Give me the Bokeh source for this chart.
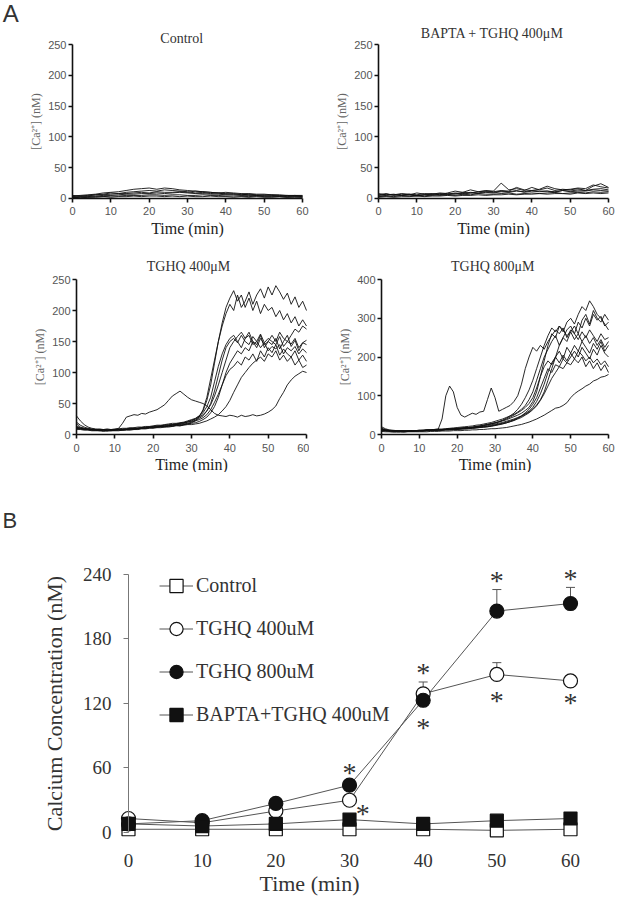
from bokeh.plotting import figure
from bokeh.layouts import column, row
from bokeh.models import (Range1d, FixedTicker, Label, Legend, LegendItem,
                          Whisker, ColumnDataSource, TeeHead)
from bokeh.core.properties import value
from bokeh.embed import file_html
from bokeh.resources import INLINE

SERIF = "Liberation Serif"
SANS = "Liberation Sans"

# ---------------- data: panel A traces ----------------
t_fine = [0, 1, 2, 3, 4, 5, 6, 7, 8, 9, 10, 11, 12, 13, 14, 15, 16, 17, 18, 19, 20,
          21, 22, 23, 24, 25, 26, 27, 28, 29, 30, 31, 32, 33, 34, 35, 36, 37, 38, 39, 40,
          41, 42, 43, 44, 45, 46, 47, 48, 49, 50, 51, 52, 53, 54, 55, 56, 57, 58, 59, 60]
t_coarse = [0, 2, 4, 6, 8, 10, 12, 14, 16, 18, 20, 22, 24, 26, 28, 30,
            32, 34, 36, 38, 40, 42, 44, 46, 48, 50, 52, 54, 56, 58, 60]

ctrl_1 = [4, 5, 6, 7, 9, 10, 11, 13, 15, 16, 17, 15, 17, 16, 14, 13, 12, 11, 10, 9, 8, 7, 7, 6, 5, 6, 5, 4, 5, 4, 4]
ctrl_2 = [3, 4, 4, 6, 7, 9, 8, 10, 11, 12, 13, 12, 14, 13, 12, 11, 9, 10, 8, 9, 7, 8, 6, 7, 6, 5, 6, 5, 4, 5, 4]
ctrl_3 = [2, 3, 3, 4, 5, 5, 6, 7, 7, 8, 8, 9, 8, 9, 10, 9, 8, 8, 7, 7, 6, 6, 5, 5, 5, 4, 4, 4, 3, 4, 3]
ctrl_4 = [1, 2, 2, 3, 3, 4, 4, 5, 5, 5, 6, 6, 5, 6, 6, 5, 5, 6, 5, 5, 4, 4, 4, 3, 4, 3, 3, 3, 2, 3, 2]
ctrl_5 = [2, 1, 2, 2, 3, 2, 3, 3, 4, 3, 4, 4, 3, 4, 3, 4, 3, 3, 4, 3, 3, 2, 3, 2, 3, 2, 2, 3, 2, 2, 2]
ctrl_6 = [5, 4, 5, 6, 6, 7, 8, 8, 9, 10, 9, 11, 10, 10, 11, 10, 12, 11, 10, 9, 10, 9, 8, 8, 7, 7, 6, 6, 5, 5, 5]

bapta_1 = [6, 8, 5, 7, 6, 9, 7, 8, 6, 9, 12, 10, 14, 11, 13, 12, 25, 14, 16, 13, 18, 14, 17, 13, 15, 14, 16, 13, 20, 24, 18]
bapta_2 = [4, 5, 6, 5, 7, 5, 6, 7, 8, 7, 9, 8, 10, 9, 11, 10, 12, 11, 13, 10, 12, 11, 12, 10, 13, 11, 12, 12, 14, 13, 12]
bapta_3 = [3, 4, 3, 5, 4, 5, 4, 6, 5, 6, 5, 7, 6, 8, 7, 7, 8, 9, 7, 8, 9, 8, 9, 10, 8, 9, 10, 9, 11, 10, 11]
bapta_4 = [8, 6, 7, 5, 6, 4, 6, 5, 7, 6, 8, 7, 9, 8, 10, 9, 11, 10, 12, 11, 13, 12, 12, 11, 13, 12, 14, 13, 15, 16, 14]
bapta_5 = [2, 3, 2, 3, 3, 4, 3, 4, 4, 5, 4, 5, 5, 6, 5, 6, 6, 7, 6, 7, 7, 8, 7, 8, 8, 7, 9, 8, 9, 8, 9]
bapta_6 = [5, 7, 6, 8, 7, 6, 8, 7, 9, 8, 7, 10, 9, 11, 12, 11, 13, 12, 18, 14, 13, 15, 20, 16, 14, 15, 17, 16, 22, 19, 17]

t400_1 = [12, 10, 9, 8, 8, 7, 7, 8, 7, 8, 8,
          9, 8, 9, 10, 9, 10, 11, 10, 12, 11,
          12, 13, 12, 14, 13, 15, 14, 16, 17, 19,
          22, 28, 40, 60, 90, 120, 150, 175, 195, 210,
          200, 225, 205, 215, 230, 210, 225, 235, 220, 238,
          225, 240, 230, 218, 228, 210, 222, 205, 215, 200]
t400_2 = [18, 12, 10, 9, 8, 8, 7, 7, 6, 7, 7,
          7, 8, 8, 9, 9, 10, 10, 11, 11, 12,
          12, 13, 13, 14, 15, 16, 16, 18, 20, 22,
          25, 30, 38, 55, 80, 115, 150, 180, 205, 220,
          232, 215, 225, 205, 220, 200, 215, 195, 210, 200,
          205, 190, 200, 185, 195, 180, 190, 175, 185, 175]
t400_3 = [30, 22, 16, 12, 10, 9, 8, 8, 7, 7, 8,
          8, 9, 8, 9, 10, 10, 11, 12, 12, 13,
          14, 14, 15, 16, 16, 17, 18, 19, 20, 21,
          23, 26, 30, 38, 50, 70, 95, 120, 140, 150,
          155, 148, 160, 150, 145, 158, 150, 162, 148, 155,
          150, 145, 158, 142, 150, 146, 155, 140, 148, 145]
t400_4 = [14, 11, 10, 9, 8, 8, 9, 8, 9, 8, 9,
          9, 10, 10, 11, 11, 12, 12, 13, 13, 14,
          15, 15, 16, 17, 18, 18, 19, 20, 22, 24,
          26, 30, 35, 45, 60, 85, 110, 130, 145, 155,
          160, 150, 140, 155, 165, 150, 145, 160, 140, 150,
          145, 155, 138, 150, 160, 142, 152, 135, 148, 152]
t400_5 = [10, 9, 8, 8, 7, 7, 6, 7, 6, 7, 7,
          8, 7, 8, 9, 8, 9, 10, 10, 11, 11,
          12, 12, 13, 13, 14, 15, 15, 16, 17, 18,
          19, 21, 24, 28, 35, 45, 60, 80, 100, 115,
          125, 135, 130, 140, 135, 150, 140, 155, 145, 150,
          160, 150, 165, 155, 150, 160, 170, 165, 175, 170]
t400_6 = [8, 8, 7, 7, 6, 6, 6, 5, 6, 6, 7,
          7, 7, 8, 8, 9, 9, 10, 10, 11, 12,
          12, 13, 14, 14, 15, 16, 17, 17, 18, 20,
          22, 24, 27, 32, 40, 52, 65, 80, 95, 105,
          110, 118, 112, 125, 120, 130, 118, 135, 125, 140,
          132, 145, 128, 138, 130, 125, 135, 120, 128, 118]
t400_7 = [12, 10, 9, 8, 8, 7, 7, 6, 6, 6, 6,
          6, 7, 7, 7, 8, 8, 9, 9, 10, 10,
          11, 11, 12, 12, 13, 14, 14, 15, 16, 16,
          17, 18, 20, 22, 25, 28, 32, 38, 45, 55,
          68, 80, 92, 100, 108, 115, 120, 125, 118, 130,
          125, 135, 120, 128, 118, 125, 112, 120, 108, 112]
t400_8 = [20, 15, 12, 10, 9, 8, 8, 7, 8, 7, 8,
          8, 8, 9, 9, 10, 10, 11, 11, 12, 13,
          13, 14, 15, 15, 16, 17, 18, 19, 21, 23,
          25, 28, 32, 38, 48, 62, 80, 100, 120, 140,
          150, 158, 165, 155, 160, 145, 150, 140, 148, 135,
          142, 138, 145, 130, 140, 135, 142, 130, 138, 132]
t400_9 = [10, 9, 8, 8, 7, 7, 7, 8, 7, 8, 8,
          10, 18, 28, 30, 32, 31, 34, 33, 36, 38,
          40, 44, 48, 55, 62, 66, 70, 65, 60, 56,
          54, 52, 50, 46, 40, 34, 31, 30, 29, 31,
          30, 28, 31, 29, 30, 32, 30, 31, 33, 36,
          40, 46, 58, 68, 80, 88, 94, 98, 102, 100]

t800_1 = [12, 11, 10, 10, 9, 9, 10, 9, 10, 10, 11,
          11, 12, 12, 13, 14, 40, 100, 125, 110, 70,
          50, 45, 50, 55, 52, 58, 60, 90, 120, 95,
          60, 65, 70, 75, 85, 100, 130, 170, 200, 225,
          215, 230, 220, 240, 255, 270, 260, 275, 250, 270,
          260, 245, 265, 250, 270, 255, 240, 260, 245, 250]
t800_2 = [15, 12, 10, 10, 9, 9, 8, 9, 10, 9, 10,
          10, 11, 11, 12, 12, 13, 13, 14, 15, 15,
          16, 17, 18, 19, 20, 22, 24, 26, 28, 30,
          32, 35, 38, 42, 46, 50, 55, 62, 70, 85,
          110, 150, 190, 230, 260, 250, 280, 265, 290, 300,
          285, 310, 330, 320, 345, 330, 310, 300, 285, 270]
t800_3 = [20, 15, 12, 11, 10, 10, 9, 9, 10, 10, 11,
          11, 12, 12, 13, 14, 14, 15, 16, 17, 18,
          19, 20, 21, 22, 24, 25, 27, 29, 31, 34,
          37, 40, 44, 48, 52, 58, 65, 75, 90, 110,
          140, 170, 200, 220, 240, 255, 230, 250, 270, 280,
          260, 290, 275, 300, 280, 310, 295, 305, 280, 290]
t800_4 = [12, 10, 9, 9, 8, 8, 8, 9, 9, 9, 10,
          10, 10, 11, 11, 12, 12, 13, 13, 14, 15,
          15, 16, 17, 18, 19, 20, 21, 23, 25, 27,
          29, 31, 34, 37, 40, 44, 48, 54, 60, 70,
          85, 105, 130, 160, 185, 200, 215, 195, 225, 210,
          230, 215, 240, 225, 210, 235, 220, 240, 215, 230]
t800_5 = [14, 11, 10, 9, 9, 8, 9, 8, 9, 10, 10,
          11, 11, 12, 12, 13, 13, 14, 15, 15, 16,
          17, 18, 18, 19, 21, 22, 24, 26, 28, 30,
          33, 36, 40, 45, 50, 56, 62, 70, 80, 95,
          120, 150, 175, 190, 180, 200, 185, 205, 190, 210,
          195, 215, 205, 190, 200, 185, 195, 180, 190, 175]
t800_6 = [10, 9, 9, 8, 8, 8, 7, 8, 8, 9, 9,
          9, 10, 10, 10, 11, 11, 12, 12, 13, 13,
          14, 14, 15, 16, 17, 18, 19, 20, 22, 24,
          26, 28, 30, 33, 36, 40, 44, 50, 56, 64,
          74, 88, 105, 125, 145, 160, 175, 170, 185, 180,
          195, 185, 200, 175, 190, 170, 185, 165, 180, 160]
t800_7 = [16, 13, 11, 10, 10, 9, 9, 9, 10, 10, 10,
          10, 11, 11, 11, 12, 12, 13, 13, 14, 14,
          15, 16, 16, 17, 18, 19, 20, 21, 23, 25,
          27, 29, 32, 35, 38, 42, 47, 52, 58, 66,
          76, 90, 110, 140, 170, 200, 230, 250, 240, 265,
          280, 260, 295, 310, 285, 320, 300, 290, 310, 295]
t800_8 = [8, 7, 7, 6, 6, 6, 6, 7, 7, 7, 7,
          7, 7, 8, 8, 8, 9, 9, 9, 10, 10,
          10, 11, 11, 12, 12, 13, 13, 14, 15, 15,
          16, 17, 18, 20, 22, 24, 26, 29, 32, 36,
          40, 45, 50, 56, 62, 68, 70, 75, 82, 95,
          105, 112, 118, 125, 130, 138, 142, 148, 150, 155]
t800_9 = [11, 10, 9, 9, 8, 8, 8, 8, 9, 9, 9,
          9, 10, 10, 11, 11, 11, 12, 12, 13, 13,
          14, 15, 15, 16, 17, 18, 19, 20, 21, 23,
          25, 27, 30, 33, 37, 42, 48, 56, 65, 78,
          95, 120, 145, 170, 160, 180, 175, 195, 185, 200,
          215, 200, 225, 210, 195, 220, 205, 230, 210, 200]
t800_10 = [13, 11, 10, 9, 9, 9, 8, 9, 9, 10, 10,
           10, 11, 11, 12, 12, 13, 13, 14, 14, 15,
           16, 17, 18, 18, 20, 21, 23, 25, 27, 30,
           33, 37, 42, 48, 55, 65, 78, 95, 115, 140,
           170, 200, 230, 255, 275, 265, 280, 270, 255, 265,
           245, 260, 240, 255, 235, 250, 230, 245, 225, 240]

x_ticks_small = [0, 10, 20, 30, 40, 50, 60]
y_ticks_250 = [0, 50, 100, 150, 200, 250]
y_ticks_400 = [0, 100, 200, 300, 400]

# ---------------- data: panel B ----------------
time_b = [0, 10, 20, 30, 40, 50, 60]
control_mean = [3, 3, 3, 3, 3, 2, 3]
tghq400_mean = [13, 9, 20, 30, 129, 147, 141]
tghq400_err = [0, 0, 0, 0, 11, 11, 5]
tghq800_mean = [8, 11, 27, 44, 123, 206, 213]
tghq800_err = [0, 0, 0, 0, 0, 20, 15]
bapta_mean = [8, 6, 8, 12, 8, 11, 13]
star_x = [30, 31.8, 40, 40, 50, 50, 60, 60]
star_y = [56, 18, 149, 98, 234, 123, 236, 121]
x_ticks_b = [0, 10, 20, 30, 40, 50, 60]
y_ticks_b = [0, 60, 120, 180, 240]
legend_labels = ["Control", "TGHQ 400uM", "TGHQ 800uM", "BAPTA+TGHQ 400uM"]


def small_panel(title, title_x, title_y, traces, t, x_rng, y_rng, y_max, y_ticks, w, h):
    p = figure(width=w, height=h, x_range=Range1d(*x_rng), y_range=Range1d(*y_rng),
               output_backend="svg", toolbar_location=None,
               min_border_left=0, min_border_right=0,
               min_border_top=0, min_border_bottom=0)
    for tr in traces:
        p.line(t, tr, line_color="#111111", line_width=0.9)
    p.grid.visible = False
    p.outline_line_color = None
    p.xaxis.ticker = FixedTicker(ticks=x_ticks_small)
    p.yaxis.ticker = FixedTicker(ticks=y_ticks)
    p.xaxis.fixed_location = 0
    p.yaxis.fixed_location = 0
    p.xaxis.bounds = (0, 60)
    p.yaxis.bounds = (0, y_max)
    for ax in (p.xaxis[0], p.yaxis[0]):
        ax.axis_line_color = "#111111"
        ax.axis_line_width = 1.6
        ax.major_tick_line_color = "#111111"
        ax.major_tick_line_width = 1.6
        ax.major_tick_out = 4
        ax.major_tick_in = 0
        ax.minor_tick_line_color = None
        ax.major_label_text_font = SANS
        ax.major_label_text_font_size = "11px"
        ax.major_label_text_color = "#555555"
        ax.axis_label_text_font = SERIF
        ax.axis_label_text_font_style = "normal"
    p.xaxis.major_label_standoff = 5
    p.yaxis.major_label_standoff = 2
    p.xaxis.axis_label = "Time (min)"
    p.xaxis.axis_label_text_font_size = "16px"
    p.xaxis.axis_label_text_color = "#222222"
    p.xaxis.axis_label_standoff = 1
    p.yaxis.axis_label = "[Ca\u00b2\u207a] (nM)"
    p.yaxis.axis_label_text_font_size = "12px"
    p.yaxis.axis_label_text_color = "#666666"
    p.yaxis.axis_label_standoff = 2
    p.add_layout(Label(x=title_x, y=title_y, text=title, text_align="center",
                       text_baseline="alphabetic", text_font=SERIF,
                       text_font_size="14px", text_color="#333333"))
    return p


p1 = small_panel("Control", 28.5, 259.8,
                 [ctrl_1, ctrl_2, ctrl_3, ctrl_4, ctrl_5, ctrl_6], t_coarse,
                 (-18.78, 61.83), (-64.94, 321.43), 250, y_ticks_250, 309, 238)
p1.add_layout(Label(x=-18.2, y=300.4, text="A", text_align="left",
                    text_baseline="alphabetic", text_font=SANS,
                    text_font_size="24px", text_color="#333333"))
p2 = small_panel("BAPTA + TGHQ 400\u03bcM", 29.7, 267.9,
                 [bapta_1, bapta_2, bapta_3, bapta_4, bapta_5, bapta_6], t_coarse,
                 (-18.0, 62.61), (-64.94, 321.43), 250, y_ticks_250, 309, 238)
p3 = small_panel("TGHQ 400\u03bcM", 29.2, 271.0,
                 [t400_1, t400_2, t400_3, t400_4, t400_5, t400_6, t400_7, t400_8, t400_9],
                 t_fine, (-19.83, 60.78), (-61.29, 316.13), 250, y_ticks_250, 309, 234)
p4 = small_panel("TGHQ 800\u03bcM", 29.4, 433.5,
                 [t800_1, t800_2, t800_3, t800_4, t800_5, t800_6, t800_7, t800_8,
                  t800_9, t800_10],
                 t_fine, (-19.03, 62.64), (-98.06, 505.81), 400, y_ticks_400, 309, 234)

# ---------------- panel B ----------------
p5 = figure(width=618, height=426, x_range=Range1d(-17.376, 66.516),
            y_range=Range1d(-61.40, 334.88),
            output_backend="svg", toolbar_location=None,
            min_border_left=0, min_border_right=0,
            min_border_top=0, min_border_bottom=0)
p5.grid.visible = False
p5.outline_line_color = None

LINE_C = "#555555"
MK_C = "#111111"
l_ctrl = p5.line(time_b, control_mean, line_color=LINE_C, line_width=1)
l_400 = p5.line(time_b, tghq400_mean, line_color=LINE_C, line_width=1)
l_800 = p5.line(time_b, tghq800_mean, line_color=LINE_C, line_width=1)
l_bap = p5.line(time_b, bapta_mean, line_color=LINE_C, line_width=1)

for mean, err in ((tghq400_mean, tghq400_err), (tghq800_mean, tghq800_err)):
    src = ColumnDataSource(dict(x=time_b, lower=mean,
                                upper=[m + e for m, e in zip(mean, err)]))
    w = Whisker(source=src, base="x", lower="lower", upper="upper",
                dimension="height", line_color=LINE_C, line_width=1,
                upper_head=TeeHead(size=9, line_color=LINE_C, line_width=1),
                lower_head=None, level="underlay")
    p5.add_layout(w)

s_ctrl = p5.scatter(time_b, control_mean, marker="square", size=13,
                    fill_color="white", line_color=MK_C, line_width=1.2)
s_400 = p5.scatter(time_b, tghq400_mean, marker="circle", size=14,
                   fill_color="white", line_color=MK_C, line_width=1.2)
s_800 = p5.scatter(time_b, tghq800_mean, marker="circle", size=14,
                   fill_color=MK_C, line_color=MK_C, line_width=1.2)
s_bap = p5.scatter(time_b, bapta_mean, marker="square", size=13,
                   fill_color=MK_C, line_color=MK_C, line_width=1.2)

p5.text(x=star_x, y=star_y, text=["*"] * len(star_x), text_font=value(SERIF),
        text_font_size="28px", text_align="center", text_baseline="middle",
        text_color="#333333")

legend = Legend(items=[
    LegendItem(label=legend_labels[0], renderers=[l_ctrl, s_ctrl]),
    LegendItem(label=legend_labels[1], renderers=[l_400, s_400]),
    LegendItem(label=legend_labels[2], renderers=[l_800, s_800]),
    LegendItem(label=legend_labels[3], renderers=[l_bap, s_bap]),
], location=(159, 167))
legend.background_fill_alpha = 0
legend.border_line_alpha = 0
legend.padding = 0
legend.margin = 0
legend.glyph_width = 34
legend.glyph_height = 33
legend.label_height = 33
legend.spacing = 10
legend.label_standoff = 3
legend.label_text_font = SERIF
legend.label_text_font_size = "20px"
legend.label_text_color = "#333333"
p5.add_layout(legend)

p5.yaxis.fixed_location = 0
p5.xaxis.fixed_location = 0
p5.yaxis.bounds = (0, 240)
p5.yaxis.ticker = FixedTicker(ticks=y_ticks_b)
p5.xaxis.ticker = FixedTicker(ticks=x_ticks_b)
for ax in (p5.xaxis[0], p5.yaxis[0]):
    ax.major_label_text_font = SERIF
    ax.major_label_text_font_size = "19px"
    ax.major_label_text_color = "#333333"
    ax.axis_label_text_font = SERIF
    ax.axis_label_text_font_style = "normal"
    ax.axis_label_text_font_size = "22px"
    ax.axis_label_text_color = "#333333"
    ax.minor_tick_line_color = None
p5.yaxis.axis_line_color = "#777777"
p5.yaxis.major_tick_line_color = "#777777"
p5.yaxis.major_tick_out = 5
p5.yaxis.major_tick_in = 0
p5.yaxis.major_label_standoff = 12
p5.yaxis.axis_label = "Calcium Concentration (nM)"
p5.yaxis.axis_label_standoff = 13
p5.xaxis.axis_line_color = None
p5.xaxis.major_tick_line_color = None
p5.xaxis.major_tick_out = 0
p5.xaxis.major_tick_in = 0
p5.xaxis.major_label_standoff = 22
p5.xaxis.axis_label = "Time (min)"
p5.xaxis.axis_label_standoff = 0
p5.add_layout(Label(x=-17.1, y=290.2, text="B", text_align="left",
                    text_baseline="alphabetic", text_font=SANS,
                    text_font_size="22px", text_color="#333333"))

layout = column(row(p1, p2, spacing=0), row(p3, p4, spacing=0), p5, spacing=0)
open("out.html", "w").write(file_html(layout, INLINE))
